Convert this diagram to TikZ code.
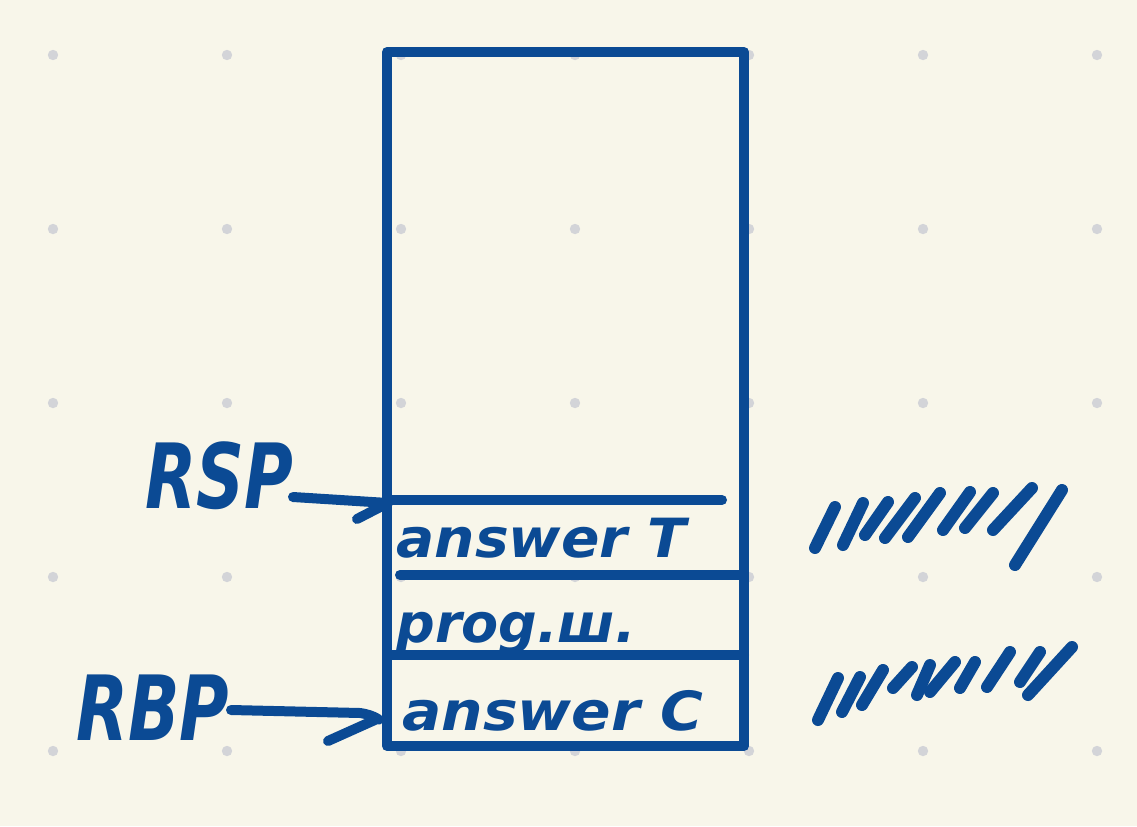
\documentclass[tikz,border=0pt]{standalone}
\usepackage{fontspec}
\setmainfont{DejaVu Sans}
\definecolor{paper}{HTML}{F8F6EA}
\definecolor{ink}{HTML}{0B4A94}
\definecolor{dotc}{HTML}{D3D4D8}
\tikzset{
  pen/.style={draw=ink, line width=5pt, line cap=round, line join=round},
  thin pen/.style={draw=ink, line width=6pt, line cap=round, line join=round},
  hand/.style={text=ink, font=\fontsize{27}{27}\selectfont\bfseries\itshape, inner sep=0pt, anchor=base west},
  big hand/.style={text=ink, font=\fontsize{45}{45}\selectfont\bfseries\itshape, inner sep=0pt, anchor=base west},
}
\begin{document}
\begin{tikzpicture}[x=0.5pt,y=-0.5pt]
\fill[paper] (0,0) rectangle (1137,826);
\useasboundingbox (0,0) rectangle (1137,826);
% dot grid
\foreach \x in {53,227,401,575,749,923,1097}
  \foreach \y in {55,229,403,577,751}
    \fill[dotc] (\x,\y) circle (2.6pt);
% stack box
\draw[pen] (387,52) rectangle (744,746);
\draw[pen] (387,500) -- (722,500);
\draw[pen] (400,575) -- (740,575);
\draw[pen] (390,655) -- (744,655);
% cell texts
\node[hand] (c1) at (396,557) {\scalebox{1.05}[1]{answer T}};
\node[hand] (c2) at (396,642) {prog.ш.};
\node[hand] (c3) at (402,730) {\scalebox{1.08}[1]{answer C}};
% registers
\node[big hand] (rsp) at (145,508) {\scalebox{0.74}[1]{RSP}};
\node[big hand] (rbp) at (76,740) {\scalebox{0.75}[1]{RBP}};
% arrows
\coordinate (rspstart) at (293,497);
\coordinate (rsptip) at (388,503);
\coordinate (rspbarb) at (357,519);
\coordinate (rbpstart) at (231,710);
\coordinate (rbptip) at (377,719);
\coordinate (rbpbarb) at (328,741);
\draw[pen] (rspstart) -- (rsptip) -- (rspbarb);
\draw[pen] (rbpstart) -- (360,713) .. controls (375,715) and (382,722) .. (rbptip) -- (rbpbarb);
% scribbles top
\foreach \a/\b/\c/\d in {815/548/835/507, 843/545/863/503, 865/535/888/502, 885/538/915/498, 908/537/940/493, 943/530/970/492, 965/528/993/493, 993/530/1032/488, 1015/565/1062/490}
  \draw[thin pen] (\a,\b) -- (\c,\d);
% scribbles bottom
\foreach \a/\b/\c/\d in {818/720/838/678, 842/712/860/677, 862/705/883/670, 893/688/912/667, 917/695/930/665, 930/692/955/662, 960/688/975/662, 987/687/1010/652, 1020/682/1040/652, 1028/695/1072/647}
  \draw[thin pen] (\a,\b) -- (\c,\d);
\end{tikzpicture}
\end{document}
